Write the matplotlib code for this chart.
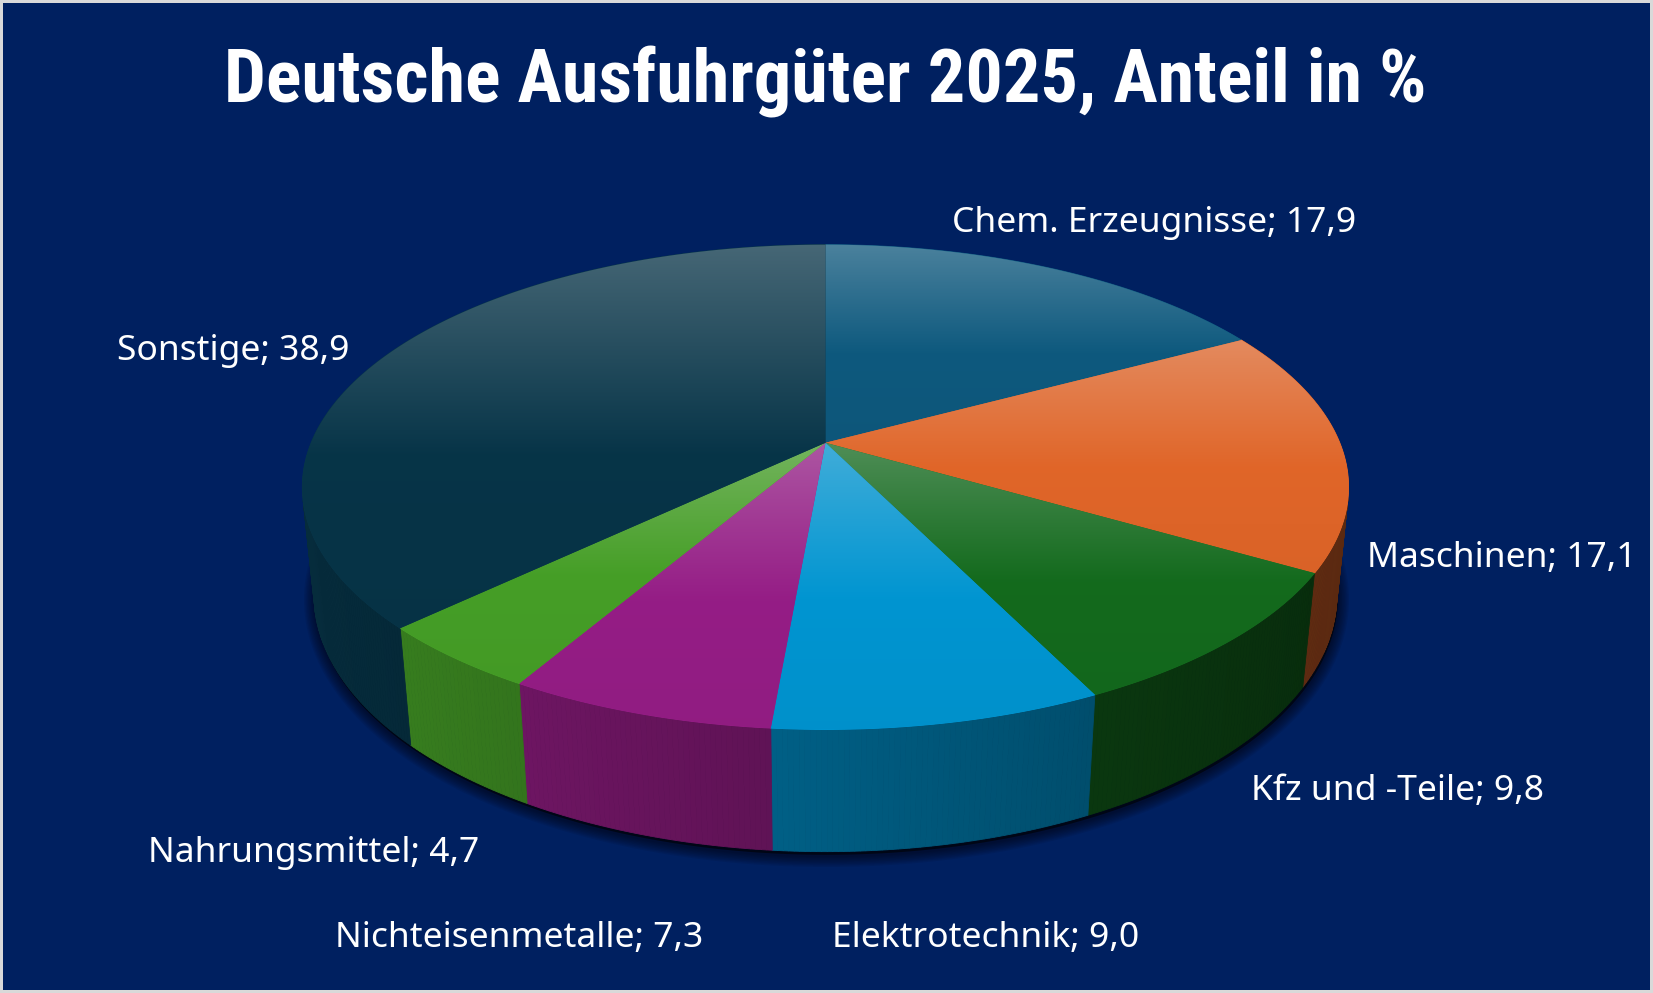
import numpy as np
import matplotlib
matplotlib.use('Agg')
import matplotlib.pyplot as plt
from matplotlib.patches import Polygon, Rectangle
from matplotlib import font_manager
from matplotlib.colors import to_rgb

# data
labels = ['Chem. Erzeugnisse', 'Maschinen', 'Kfz und -Teile', 'Elektrotechnik',
          'Nichteisenmetalle', 'Nahrungsmittel', 'Sonstige']
values = [17.9, 17.1, 9.8, 9.0, 7.3, 4.7, 38.9]
title = 'Deutsche Ausfuhrgüter 2025, Anteil in %'

colors = ['#0e5c82', '#e8692a', '#146e1e', '#009ad8', '#9a1e8a', '#48a428', '#07364a']
bg = '#002060'

# label anchor (left x, center y) in canvas units
label_xy = [(903, 212), (1297, 529), (1187, 750), (789, 890),
            (318, 890), (140, 809), (111, 333)]

W, H = 1568, 942
fig = plt.figure(figsize=(16.53, 9.93), dpi=100)
fig.patch.set_facecolor('#d9d9d9')
ax = fig.add_axes([0, 0, 1, 1])
ax.set_xlim(0, W)
ax.set_ylim(H, 0)
ax.axis('off')
ax.add_patch(Rectangle((3, 3), W - 6, H - 6, facecolor=bg, edgecolor='none', zorder=0))

# perspective camera for the 3d pie
cx, cy = 783, 420
elev = np.radians(27.1)
s, c = np.sin(elev), np.cos(elev)
D, f, thick = 4.87, 2376.0, 0.238


def proj(x, y, z):
    depth = D + y * c - z * s
    return cx + f * x / depth, cy - f * (y * s + z * c) / depth


total = sum(values)
bounds = 90 - np.cumsum([0] + values) / total * 360

# shadow under the pie
th = np.radians(np.linspace(0, 360, 400))
bx, by = proj(np.cos(th), np.sin(th), -thick)
for w in range(16, 0, -2):
    ax.add_patch(Polygon(np.c_[bx + 1, by + 4], closed=True, facecolor='none',
                         edgecolor='black', lw=w, alpha=0.07, zorder=1))
ax.add_patch(Polygon(np.c_[bx + 1, by + 3], closed=True, facecolor='black',
                     edgecolor='none', alpha=0.6, zorder=1))

limit = -1 / (D * c)
for i in range(len(values)):
    t0, t1 = bounds[i], bounds[i + 1]
    n = max(8, int(abs(t0 - t1) * 2))
    ang = np.radians(np.linspace(t0, t1, n))
    base = to_rgb(colors[i])

    # outer side, front facing part only
    for j in range(n - 1):
        a0, a1 = ang[j], ang[j + 1]
        am = 0.5 * (a0 + a1)
        if np.sin(am) >= limit:
            continue
        k = 0.6 - 0.22 * np.cos(am)
        col = np.clip(np.array(base) * k, 0, 1)
        p = [proj(np.cos(a0), np.sin(a0), 0), proj(np.cos(a1), np.sin(a1), 0),
             proj(np.cos(a1), np.sin(a1), -thick), proj(np.cos(a0), np.sin(a0), -thick)]
        ax.add_patch(Polygon(p, closed=True, facecolor=col, edgecolor=col,
                             lw=0.6, zorder=2))

    # top face with vertical gradient
    px, py = proj(np.cos(ang), np.sin(ang), 0 * ang)
    verts = np.r_[[[cx, cy]], np.c_[px, py]]
    patch = Polygon(verts, closed=True, facecolor=base, edgecolor=base, lw=0.6, zorder=3)
    ax.add_patch(patch)
    y0, y1 = verts[:, 1].min(), verts[:, 1].max()
    x0, x1 = verts[:, 0].min(), verts[:, 0].max()
    t = np.linspace(0, 1, 256)[:, None]
    a = 0.3 * np.clip(1 - t / 0.55, 0, 1)
    rows = np.array(base) * (1 - a) + np.array([0.85, 0.85, 0.86]) * a
    rows = rows * (1 - 0.06 * t)
    img = np.repeat(rows[:, None, :], 2, axis=1)
    im = ax.imshow(img, extent=(x0, x1, y1, y0), aspect='auto', origin='upper',
                   interpolation='bilinear', zorder=4)
    im.set_clip_path(patch)

# labels
lab_font = ['Noto Sans', 'DejaVu Sans']
for (x, y), lab, v in zip(label_xy, labels, values):
    txt = lab + '; ' + f'{v:.1f}'.replace('.', ',')
    ax.text(x, y, txt, color='white', fontsize=25.5, family=lab_font,
            ha='left', va='center', zorder=6)

# title: pick a narrow bold face if one is installed
names = {fnt.name for fnt in font_manager.fontManager.ttflist}
tfam = 'DejaVu Sans'
for cand in ['Liberation Sans Narrow', 'DejaVu Sans Condensed', 'Roboto Condensed']:
    if cand in names:
        tfam = cand
        break
tt = ax.text(783, 78, title, color='white', fontsize=50, fontweight='bold',
             family=tfam, fontstretch='condensed', ha='center', va='center', zorder=6)
fig.canvas.draw()
bb = tt.get_window_extent()
target = 1203
tt.set_fontsize(50 * target / bb.width)

fig.savefig('out.png', dpi=100, facecolor=fig.get_facecolor())
